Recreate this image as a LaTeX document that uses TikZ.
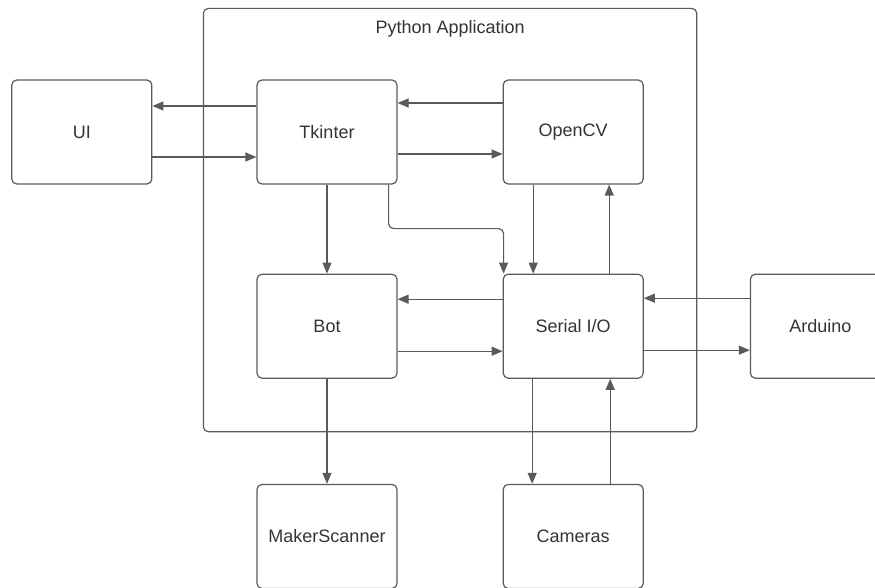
\documentclass[tikz,border=0pt]{standalone}
\usepackage{fontspec}
\setmainfont{Liberation Sans}
\usepackage{xcolor}
\usepackage{tikz}
\usetikzlibrary{arrows.meta,positioning,fit}

\definecolor{linegray}{HTML}{5A5A5A}
\definecolor{textgray}{HTML}{333333}

\begin{document}
\begin{tikzpicture}[
    node distance=105pt,
    box/.style={rectangle, draw=linegray, line width=1.2pt, rounded corners=5pt, minimum width=140pt, minimum height=104pt, text centered, text=textgray, font=\fontsize{18}{22}\selectfont},
    container/.style={rectangle, draw=linegray, line width=1.2pt, rounded corners=5pt},
    edge/.style={-{Triangle[length=11pt,width=9pt]}, draw=linegray, line width=1.2pt}
]
    \clip (0,0) rectangle (875pt,-588pt);

    \node[box] (tkinter) at (327pt,-132pt) {Tkinter};
    \node[box, left=104pt of tkinter] (ui) {UI};
    \node[box, right=105pt of tkinter] (opencv) {OpenCV};
    \node[box, below=89pt of tkinter] (bot) {Bot};
    \node[box, below=89pt of opencv] (serial) {Serial I/O};
    \node[box, right=106pt of serial] (arduino) {Arduino};
    \node[box, below=105pt of bot] (scanner) {MakerScanner};
    \node[box, below=105pt of serial] (cameras) {Cameras};

    % application frame
    \coordinate (apptop) at ([yshift=18pt]tkinter.north);
    \node[container, fit=(apptop) (tkinter) (serial), inner sep=53pt] (app) {};
    \node[text=textgray, font=\fontsize{18}{22}\selectfont] (title) at ([yshift=-21pt]app.north) {Python Application};

    \draw[edge] ([yshift=26pt]tkinter.west) -- ([yshift=26pt]ui.east);
    \draw[edge] ([yshift=-25pt]ui.east) -- ([yshift=-25pt]tkinter.west);
    \draw[edge] ([yshift=29pt]opencv.west) -- ([yshift=29pt]tkinter.east);
    \draw[edge] ([yshift=-22pt]tkinter.east) -- ([yshift=-22pt]opencv.west);
    \draw[edge] (tkinter) -- (bot);
    \draw[edge, rounded corners=5pt] ([xshift=-9pt]tkinter.south east) -- ++(0,-44pt) -| ([xshift=1pt]serial.north west);
    \draw[edge] ([xshift=-40pt]opencv.south) -- ([xshift=-40pt]serial.north);
    \draw[edge] ([xshift=36pt]serial.north) -- ([xshift=36pt]opencv.south);
    \draw[edge] ([yshift=27pt]serial.west) -- ([yshift=27pt]bot.east);
    \draw[edge] ([yshift=-25pt]bot.east) -- ([yshift=-25pt]serial.west);
    \draw[edge] ([yshift=28pt]arduino.west) -- ([yshift=28pt]serial.east);
    \draw[edge] ([yshift=-24pt]serial.east) -- ([yshift=-24pt]arduino.west);
    \draw[edge] (bot) -- (scanner);
    \draw[edge] ([xshift=-41pt]serial.south) -- ([xshift=-41pt]cameras.north);
    \draw[edge] ([xshift=37pt]cameras.north) -- ([xshift=37pt]serial.south);
\end{tikzpicture}
\end{document}
